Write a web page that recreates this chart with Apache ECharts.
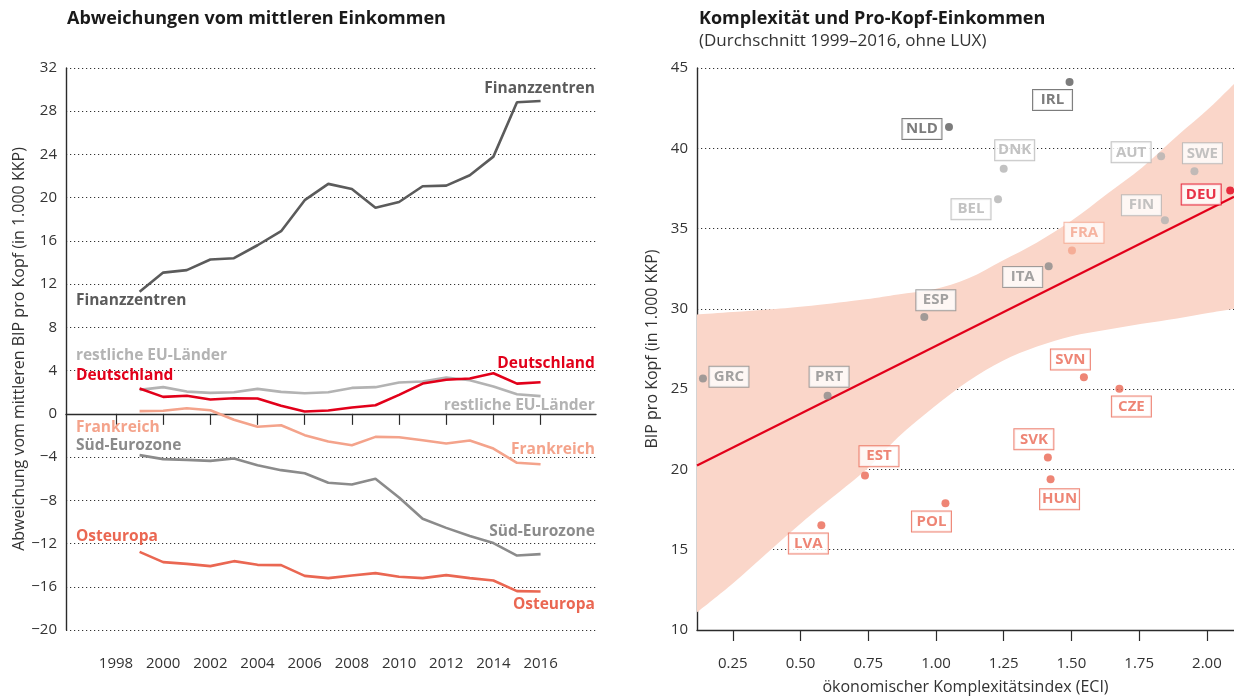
<!DOCTYPE html>
<html><head><meta charset="utf-8">
<script src="https://cdn.jsdelivr.net/npm/echarts@6/dist/echarts.min.js"></script>
<style>html,body{margin:0;padding:0;background:#fff}#c{width:1234px;height:700px}</style>
</head><body><div id="c"></div>
<script>
// ---------- Left chart data ----------
const years = [1999,2000,2001,2002,2003,2004,2005,2006,2007,2008,2009,2010,2011,2012,2013,2014,2015,2016];
const yearTicks = [1998,2000,2002,2004,2006,2008,2010,2012,2014,2016];
const finanzzentren = [11.3,13.07,13.3,14.28,14.4,15.6,16.9,19.77,21.28,20.8,19.06,19.6,21.06,21.12,22.08,23.8,28.83,28.95];
const restlicheEU   = [2.22,2.47,2.06,1.94,2.0,2.31,2.03,1.91,2.0,2.4,2.47,2.9,2.99,3.36,3.11,2.53,1.82,1.64];
const deutschland   = [2.34,1.57,1.67,1.33,1.45,1.42,0.74,0.22,0.31,0.59,0.8,1.76,2.8,3.15,3.27,3.76,2.8,2.93];
const frankreich    = [0.25,0.28,0.52,0.34,-0.55,-1.2,-1.05,-1.97,-2.56,-2.9,-2.13,-2.16,-2.44,-2.74,-2.47,-3.21,-4.53,-4.66];
const suedEurozone  = [-3.82,-4.19,-4.26,-4.35,-4.13,-4.75,-5.21,-5.49,-6.38,-6.54,-6.01,-7.74,-9.71,-10.55,-11.31,-11.96,-13.11,-12.98];
const osteuropa     = [-12.77,-13.72,-13.88,-14.09,-13.63,-13.97,-14.0,-14.99,-15.2,-14.96,-14.74,-15.08,-15.2,-14.92,-15.2,-15.42,-16.4,-16.44];

// ---------- Right chart data ----------
const countries = ['IRL','NLD','DNK','AUT','SWE','DEU','BEL','FIN','FRA','ITA','ESP','GRC','PRT','SVN','CZE','SVK','EST','HUN','POL','LVA'];
const eci       = [1.493,1.048,1.250,1.831,1.954,2.086,1.229,1.845,1.502,1.416,0.957,0.140,0.600,1.546,1.677,1.413,0.738,1.423,1.035,0.577];
const gdp       = [44.13,41.32,38.73,39.50,38.57,37.37,36.83,35.52,33.64,32.65,29.50,25.66,24.59,25.74,25.02,20.74,19.62,19.39,17.90,16.52];
const groups    = ['fin','fin','eu','eu','eu','deu','eu','eu','fra','sued','sued','sued','sued','ost','ost','ost','ost','ost','ost','ost'];
const eciTicks  = [0.25,0.5,0.75,1.0,1.25,1.5,1.75,2.0];
const fitEci    = [0.118, 2.1];
const fitGdp    = [20.24, 36.98];
const bandEci   = [0.118,0.25,0.39,0.54,0.74,0.86,0.99,1.12,1.245,1.373,1.50,1.63,1.76,1.89,2.01,2.1];
const bandLow   = [11.1,12.9,15.0,17.2,19.95,22.0,23.85,25.5,26.75,27.65,28.3,28.7,29.07,29.4,29.75,30.0];
const bandHigh  = [29.65,29.8,29.98,30.2,30.6,30.9,31.2,31.9,33.0,34.14,35.48,37.14,38.79,40.76,42.52,44.0];

// ---------- styling ----------
const F = '"Open Sans", "Noto Sans", sans-serif';
const C = {
  fin: '#5b5b5b', eu: '#b3b3b3', deu: '#e2001a', fra: '#f4a38b', sued: '#8b8b8b', ost: '#ea6752'
};
const AX = '#2b2b2b';
const BAND = '#fad6c9';
const gridDots = {show:true, lineStyle:{color:'#333', width:1.2, type:[1.2,2.8]}};

// label placement (pixel offsets from the dot)
const labelOffset = {
  IRL:[-17,18], NLD:[-27,2], DNK:[11,-18.5], AUT:[-30,-4], SWE:[8,-18], DEU:[-29,4], BEL:[-27,10],
  FIN:[-23.5,-15], FRA:[12,-17.7], ITA:[-26,10.7], ESP:[11.5,-16.7], GRC:[26,-1.7], PRT:[1.5,-19],
  SVN:[-13.5,-17.7], CZE:[12,17.7], SVK:[-14,-18.3], EST:[14,-19.3], HUN:[9,20], POL:[-14,18.3], LVA:[-13,18.3]
};
// left chart line labels: [leftValue, rightValue] in data units
const XL = 1996.3, XR = 2018.3;
const lineLabels = {
  'Finanzzentren':[10.45,30.07], 'restliche EU-Länder':[5.4,0.77], 'Deutschland':[3.5,4.69],
  'Frankreich':[-1.27,-3.27], 'Süd-Eurozone':[-2.96,-10.89], 'Osteuropa':[-11.35,-17.67]
};

function lineSeries(name, values, color){
  const lp = lineLabels[name];
  const lbl = (align) => ({show:true, position:'inside', align:align, verticalAlign:'middle', formatter:name,
      fontFamily:F, fontSize:15.5, fontWeight:'bold', color:color});
  return {
    type:'line', name:name, xAxisIndex:0, yAxisIndex:0,
    data: years.map((y,i)=>[y, values[i]]),
    symbol:'none', lineStyle:{color:color, width:2.6}, z:3,
    markPoint:{
      symbol:'circle', symbolSize:1, itemStyle:{color:'rgba(0,0,0,0)'}, animation:false,
      data:[
        {coord:[XL, lp[0]], label:lbl('left')},
        {coord:[XR, lp[1]], label:lbl('right')}
      ]
    }
  };
}
const minus = v => v < 0 ? '\u2212' + Math.abs(v) : String(v);

// Catmull-Rom spline through pixel points -> SVG path segments
function splineSegs(p, start){
  let d = start ? 'M' + p[0][0] + ' ' + p[0][1] : 'L' + p[0][0] + ' ' + p[0][1];
  for (let i=0;i<p.length-1;i++){
    const p0 = p[Math.max(i-1,0)], p1 = p[i], p2 = p[i+1], p3 = p[Math.min(i+2,p.length-1)];
    const c1 = [p1[0] + (p2[0]-p0[0])/6, p1[1] + (p2[1]-p0[1])/6];
    const c2 = [p2[0] - (p3[0]-p1[0])/6, p2[1] - (p3[1]-p1[1])/6];
    d += ' C' + c1[0] + ' ' + c1[1] + ' ' + c2[0] + ' ' + c2[1] + ' ' + p2[0] + ' ' + p2[1];
  }
  return d;
}

const chart = echarts.init(document.getElementById('c'), null, {renderer:'canvas'});
const option = {
  animation:false,
  backgroundColor:'#fff',
  textStyle:{fontFamily:F},
  title:[
    {text:'Abweichungen vom mittleren Einkommen', left:62, top:5,
     textStyle:{fontFamily:F, fontSize:18, fontWeight:'bold', color:'#1a1a1a'}},
    {text:'Komplexität und Pro-Kopf-Einkommen', subtext:'(Durchschnitt 1999–2016, ohne LUX)', left:694, top:5, itemGap:5,
     textStyle:{fontFamily:F, fontSize:18, fontWeight:'bold', color:'#1a1a1a'},
     subtextStyle:{fontFamily:F, fontSize:17, color:'#333'}}
  ],
  grid:[
    {left:66, top:68, width:530, height:562},
    {left:697, top:68, width:537, height:562}
  ],
  xAxis:[
    {gridIndex:0, type:'value', min:1995.88, max:2018.35,
     axisLine:{show:true, lineStyle:{color:AX, width:1.4}},
     axisTick:{show:true, customValues:yearTicks, length:11, lineStyle:{color:AX, width:1.2}},
     axisLabel:{customValues:yearTicks, margin:26, fontFamily:F, fontSize:15, color:'#333', formatter:v=>String(v)},
     splitLine:{show:false}},
    {gridIndex:1, type:'value', min:0.118, max:2.1,
     axisLine:{show:true, lineStyle:{color:AX, width:1.4}},
     axisTick:{show:true, customValues:eciTicks, length:11, lineStyle:{color:AX, width:1.2}},
     axisLabel:{customValues:eciTicks, margin:26, fontFamily:F, fontSize:15, color:'#333', formatter:v=>v.toFixed(2)},
     splitLine:{show:false},
     name:'ökonomischer Komplexitätsindex (ECI)', nameLocation:'middle', nameGap:49,
     nameTextStyle:{fontFamily:F, fontSize:16, color:'#333'}}
  ],
  yAxis:[
    {gridIndex:0, type:'value', min:-20, max:32, interval:4,
     axisLine:{show:true, lineStyle:{color:AX, width:1.4}}, axisTick:{show:false},
     axisLabel:{margin:9, fontFamily:F, fontSize:15, color:'#333', formatter:minus},
     splitLine:gridDots,
     name:'Abweichung vom mittleren BIP pro Kopf (in 1.000 KKP)', nameLocation:'middle', nameGap:37,
     nameTextStyle:{fontFamily:F, fontSize:16, color:'#333'}},
    {gridIndex:1, type:'value', min:10, max:45, interval:5,
     axisLine:{show:true, lineStyle:{color:AX, width:1.4}}, axisTick:{show:false},
     axisLabel:{margin:9, fontFamily:F, fontSize:15, color:'#333'},
     splitLine:gridDots,
     name:'BIP pro Kopf (in 1.000 KKP)', nameLocation:'middle', nameGap:37,
     nameTextStyle:{fontFamily:F, fontSize:16, color:'#333'}}
  ],
  series:[
    lineSeries('Finanzzentren', finanzzentren, C.fin),
    lineSeries('restliche EU-Länder', restlicheEU, C.eu),
    lineSeries('Süd-Eurozone', suedEurozone, C.sued),
    lineSeries('Osteuropa', osteuropa, C.ost),
    lineSeries('Frankreich', frankreich, C.fra),
    lineSeries('Deutschland', deutschland, C.deu),
    // confidence band (smoothed outline through the read-off bounds)
    {type:'custom', xAxisIndex:1, yAxisIndex:1, z:1, silent:true, clip:true,
     data: bandEci.map((x,i)=>[x, bandLow[i], bandHigh[i]]),
     renderItem:function(params, api){
       if (params.dataIndex !== 0) return null;
       const up = bandEci.map((x,i)=>api.coord([x, bandHigh[i]]));
       const lo = bandEci.map((x,i)=>api.coord([x, bandLow[i]])).reverse();
       const d = splineSegs(up, true) + ' ' + splineSegs(lo, false) + ' Z';
       return {type:'path', shape:{pathData:d}, style:{fill:BAND}};
     }},
    // regression line
    {type:'line', xAxisIndex:1, yAxisIndex:1, z:2, symbol:'none',
     data: fitEci.map((x,i)=>[x, fitGdp[i]]), lineStyle:{color:'#e2001a', width:2.2}},
    // countries
    {type:'scatter', xAxisIndex:1, yAxisIndex:1, z:4, symbolSize:8, clip:false,
     data: countries.map((c,i)=>{
       const col = C[groups[i]];
       return {name:c, value:[eci[i], gdp[i]], itemStyle:{color:col},
         label:{show:true, position:'inside', offset:labelOffset[c], formatter:'{b}',
           fontFamily:F, fontSize:15, fontWeight:'bold', color:col, backgroundColor:'#fff',
           borderColor:col, borderWidth:1, padding:[1,4,0,4], width:31, align:'center', lineHeight:19}};
     })}
  ]
};
chart.setOption(option);
</script>
</body></html>
